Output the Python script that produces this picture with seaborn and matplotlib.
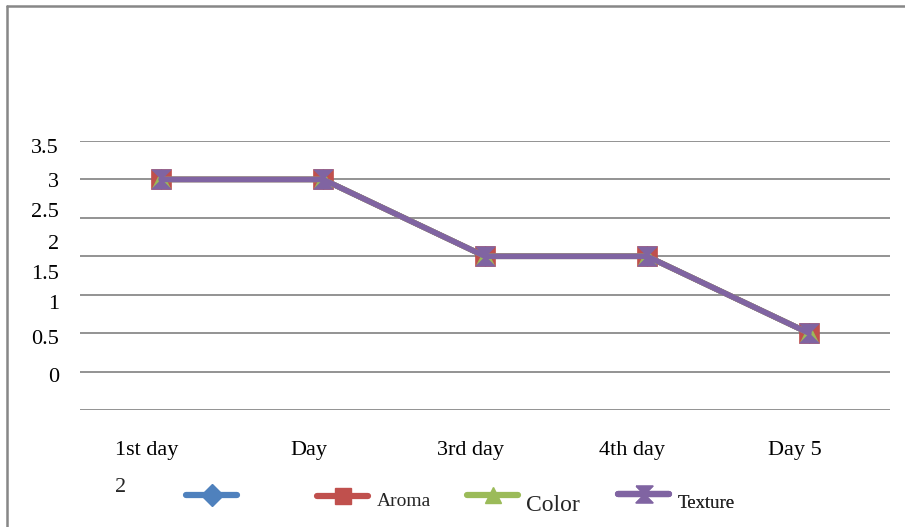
import numpy as np
import pandas as pd
import matplotlib
matplotlib.use("Agg")
import matplotlib.pyplot as plt
from matplotlib.lines import Line2D
import seaborn as sns

days = ["1st day", "Day", "3rd day", "4th day", "Day 5"]
series_names = ["", "Aroma", "Color", "Texture"]
taste = [3, 3, 2, 2, 1]
aroma = [3, 3, 2, 2, 1]
color = [3, 3, 2, 2, 1]
texture = [3, 3, 2, 2, 1]
ytick_labels = ["3.5", "3", "2.5", "2", "1.5", "1", "0.5", "0"]
ytick_label_pos = [3.44, 2.99, 2.60, 2.18, 1.79, 1.40, 0.95, 0.45]
grid_values = [0, 0.5, 1, 1.5, 2, 2.5, 3, 3.5]

sns.set_theme(style="white")
plt.rcParams["font.family"] = ["Liberation Serif", "DejaVu Serif"]

W, H = 905, 527
fig = plt.figure(figsize=(W / 100, H / 100), dpi=100)
ax = fig.add_axes([80 / W, (H - 410) / H, 810 / W, 269 / H])

colors = ["#4F81BD", "#C0504D", "#9BBB59", "#8064A2"]
hourglass = [(-1, 1), (1, 1), (-1, -1), (1, -1), (-1, 1)]
markers = ["D", "s", "^", hourglass]
msizes = [10, 14, 13, 14]
all_vals = [taste, aroma, color, texture]

for gv in grid_values:
    ax.axhline(gv, color="#8a8a8a", lw=1.3, zorder=0)

for vals, c, m, ms, name in zip(all_vals, colors, markers, msizes, series_names):
    sns.lineplot(x=days, y=vals, ax=ax, color=c, marker=m, markersize=ms,
                 markeredgecolor=c, markeredgewidth=0.5, linewidth=4.0,
                 sort=False, zorder=3)

ax.set_xlim(-0.5, 4.5)
ax.set_ylim(0, 3.5)
for s in ax.spines.values():
    s.set_visible(False)
ax.set_xticks(np.arange(len(days)) - 0.09, labels=days)
ax.set_yticks(ytick_label_pos, labels=ytick_labels)
ax.tick_params(axis="both", length=0, labelsize=16, colors="black")
ax.tick_params(axis="y", pad=15)
ax.tick_params(axis="x", pad=22)
ax.set_xlabel("")
ax.set_ylabel("")
ax.grid(False)

fig.text(115 / W, 1 - 487 / H, "2", fontsize=16, va="center", ha="left")

# legend entries: (handle left px, label, text size, handleheight, anchor y px)
legend_specs = [
    (186, "", 15, 0.7, 498),
    (317, "Aroma", 14, 1.6, 499),
    (467, "Color", 17, 3.4, 505),
    (618, "Texture", 13.5, 2.8, 502),
]
leg_ms = [11, 11, 12, 12]
for (x0, lab, fs, hh, yc), c, m, ms in zip(legend_specs, colors, markers, leg_ms):
    h = Line2D([], [], color=c, marker=m, markersize=ms, markeredgecolor=c, linewidth=4.5)
    leg = ax.legend([h], [lab], loc="center left",
                    bbox_to_anchor=(x0 / W, 1 - yc / H), bbox_transform=fig.transFigure,
                    frameon=False, borderpad=0, borderaxespad=0, handlelength=2.45,
                    handleheight=hh, handletextpad=0.4, fontsize=15)
    for t in leg.get_texts():
        t.set_fontsize(fs)
    ax.add_artist(leg)

# outer frame (left and top)
fig.add_artist(Line2D([7 / W, 7 / W], [0, 1 - 6 / H], transform=fig.transFigure,
                      color="#878787", lw=1.8))
fig.add_artist(Line2D([7 / W, 1], [1 - 6 / H, 1 - 6 / H], transform=fig.transFigure,
                      color="#878787", lw=1.8))

fig.savefig("out.png", dpi=100)
